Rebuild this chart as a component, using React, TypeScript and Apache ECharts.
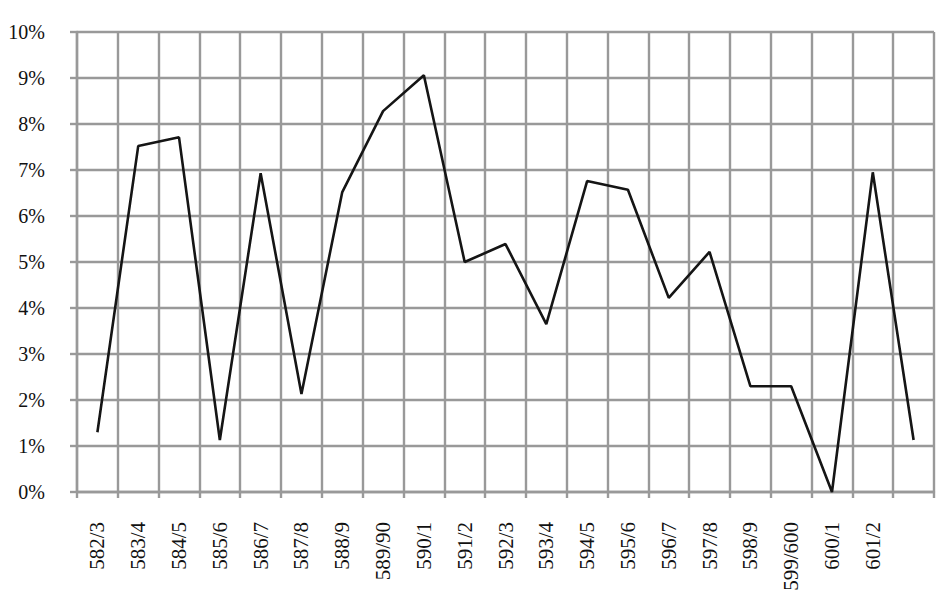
import React, { useEffect, useRef } from "react";
import * as echarts from "echarts";

const categories: string[] = [
  "582/3", "583/4", "584/5", "585/6", "586/7", "587/8", "588/9", "589/90",
  "590/1", "591/2", "592/3", "593/4", "594/5", "595/6", "596/7", "597/8",
  "598/9", "599/600", "600/1", "601/2", "",
];

const values: number[] = [
  1.3, 7.52, 7.71, 1.13, 6.93, 2.13, 6.52, 8.28, 9.06, 5.0, 5.39, 3.65,
  6.76, 6.57, 4.22, 5.22, 2.3, 2.3, 0.0, 6.95, 1.13,
];

const yMin = 0;
const yMax = 10;
const yStep = 1;

const FONT = "Liberation Serif";
const GRID = "#999999";

export default function App() {
  const ref = useRef<HTMLDivElement>(null);
  useEffect(() => {
    if (!ref.current) return;
    const chart = echarts.init(ref.current, null, { renderer: "svg" });
    chart.setOption({
      animation: false,
      backgroundColor: "#ffffff",
      grid: {
        left: 77,
        right: 7,
        top: 32,
        bottom: 105,
        containLabel: false,
        outerBoundsMode: "none",
      },
      xAxis: {
        type: "category",
        data: categories,
        boundaryGap: true,
        axisLine: { show: true, lineStyle: { color: GRID, width: 2.4 } },
        axisTick: { show: true, length: 6, lineStyle: { color: GRID, width: 2.4 } },
        splitLine: { show: true, lineStyle: { color: GRID, width: 2.4 } },
        axisLabel: {
          rotate: 90,
          margin: 30,
          interval: 0,
          fontFamily: FONT,
          fontSize: 21,
          color: "#111",
        },
      },
      yAxis: {
        type: "value",
        min: yMin,
        max: yMax,
        interval: yStep,
        axisLine: { show: true, lineStyle: { color: GRID, width: 2.4 } },
        axisTick: { show: true, length: 7, lineStyle: { color: GRID, width: 2.4 } },
        splitLine: { show: true, lineStyle: { color: GRID, width: 2.4 } },
        axisLabel: {
          formatter: "{value}%",
          margin: 32,
          fontFamily: FONT,
          fontSize: 20,
          color: "#111",
        },
      },
      series: [
        {
          type: "line",
          data: values,
          symbol: "none",
          lineStyle: { color: "#151515", width: 2.6 },
        },
      ],
    });
    return () => chart.dispose();
  }, []);
  return (
    <div
      ref={ref}
      style={{ position: "fixed", left: 0, top: 0, width: 941, height: 597, background: "#fff" }}
    />
  );
}
